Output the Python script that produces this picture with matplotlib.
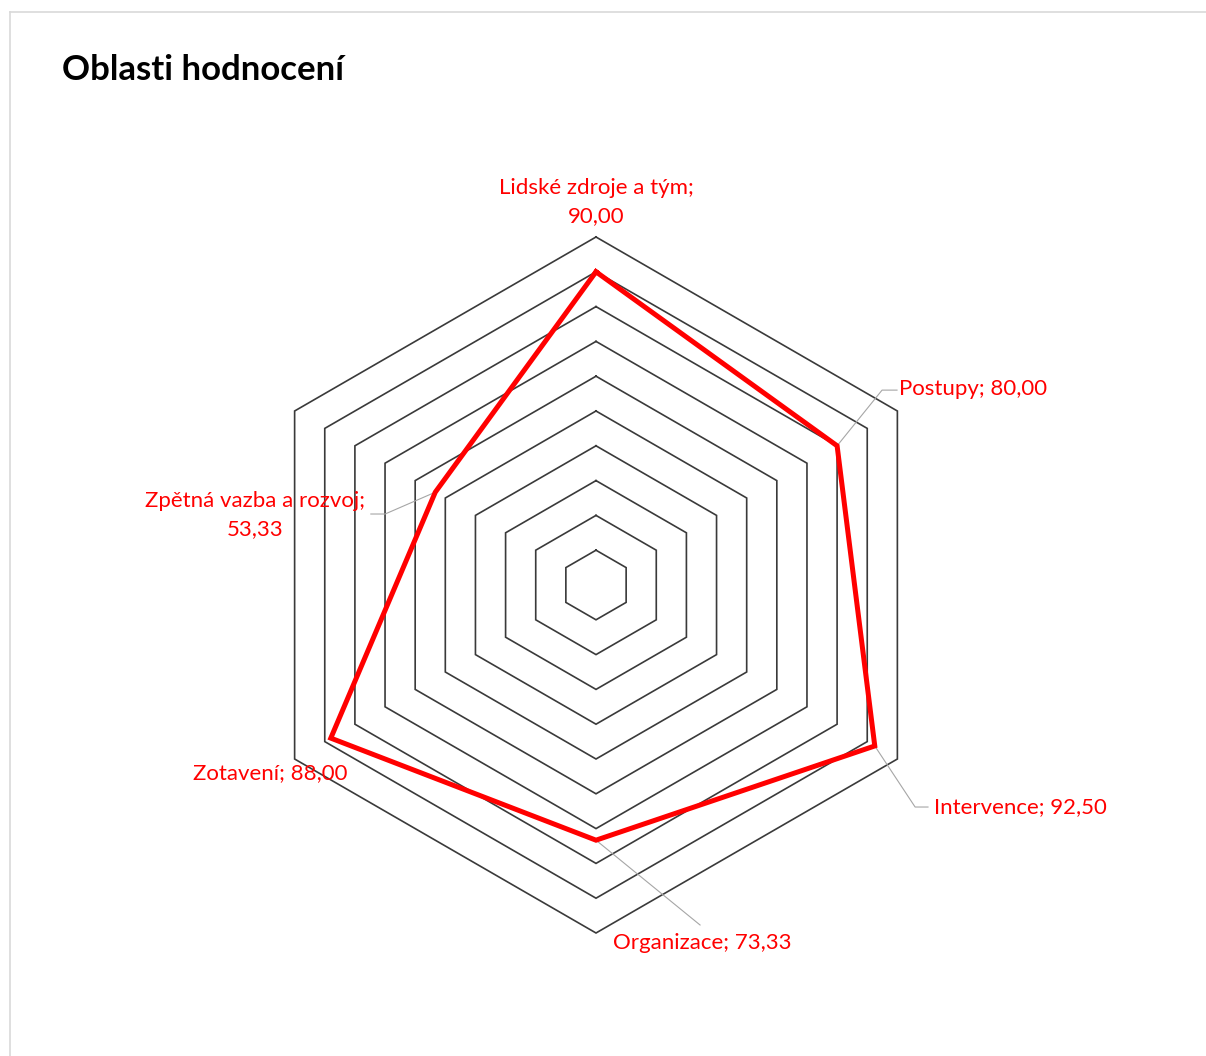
import matplotlib
matplotlib.use("Agg")
import matplotlib.pyplot as plt
import numpy as np
from matplotlib.lines import Line2D

categories = [
    "Lidské zdroje a tým",
    "Postupy",
    "Intervence",
    "Organizace",
    "Zotavení",
    "Zpětná vazba a rozvoj",
]
values = [90.00, 80.00, 92.50, 73.33, 88.00, 53.33]
ring_levels = [10, 20, 30, 40, 50, 60, 70, 80, 90, 100]

RED = "#ff0000"
GRID = "#3a3a3a"
LEADER = "#a6a6a6"
FONT = "Lato"

# label layout: (text anchor x, y, ha, two-line?, leader path points)
label_layout = [
    ((0.0, 110.0), "center", True, []),
    ((87.0, 56.2), "left", False, [(82.2, 56.0), (86.5, 56.0)]),
    ((97.0, -63.8), "left", False, [(91.7, -63.8), (95.4, -63.8)]),
    ((5.0, -102.9), "left", False, [(29.9, -97.7)]),
    ((-93.7, -54.0), "center", False, []),
    ((-98.0, 20.1), "center", True, [(-60.6, 20.4), (-64.7, 20.4)]),
]


def _xy(vals):
    n = len(vals)
    ang = np.deg2rad(90 - 360.0 / n * np.arange(n))
    v = np.asarray(vals, dtype=float)
    x = v * np.cos(ang)
    y = v * np.sin(ang)
    return np.append(x, x[0]), np.append(y, y[0])


fig = plt.figure(figsize=(12.06, 10.56), dpi=100)
ax = fig.add_axes([0, 0, 1, 1])
scale = 3.48
ax.set_xlim(-596 / scale, (1206 - 596) / scale)
ax.set_ylim(-(1056 - 585) / scale, 585 / scale)
ax.axis("off")

n = len(categories)
for level in ring_levels:
    rx, ry = _xy([level] * n)
    ax.plot(rx, ry, color=GRID, linewidth=1.2, solid_joinstyle="miter")

px, py = _xy(values)

for i, (pos, ha, two_line, leader) in enumerate(label_layout):
    if leader:
        lx = [px[i]] + [p[0] for p in leader]
        ly = [py[i]] + [p[1] for p in leader]
        ax.plot(lx, ly, color=LEADER, linewidth=0.8, zorder=2)

ax.plot(px, py, color=RED, linewidth=3.6, solid_joinstyle="miter", zorder=3)

for i, (pos, ha, two_line, leader) in enumerate(label_layout):
    val = f"{values[i]:.2f}".replace(".", ",")
    sep = ";\n" if two_line else "; "
    ax.text(
        pos[0],
        pos[1],
        f"{categories[i]}{sep}{val}",
        ha=ha,
        va="center",
        color=RED,
        fontsize=16,
        family=FONT,
        linespacing=1.5,
        multialignment="center",
        zorder=4,
    )

fig.text(
    62 / 1206,
    1 - 70 / 1056,
    "Oblasti hodnocení",
    ha="left",
    va="center",
    fontsize=25,
    fontweight="bold",
    family=FONT,
    color="black",
)

# chart frame (only left and top edges visible in the crop)
fig.add_artist(Line2D([10 / 1206, 10 / 1206], [0, 1 - 12 / 1056],
                      transform=fig.transFigure, color="#d9d9d9", linewidth=1.2))
fig.add_artist(Line2D([10 / 1206, 1], [1 - 12 / 1056, 1 - 12 / 1056],
                      transform=fig.transFigure, color="#d9d9d9", linewidth=1.2))

fig.savefig("out.png", dpi=100)
